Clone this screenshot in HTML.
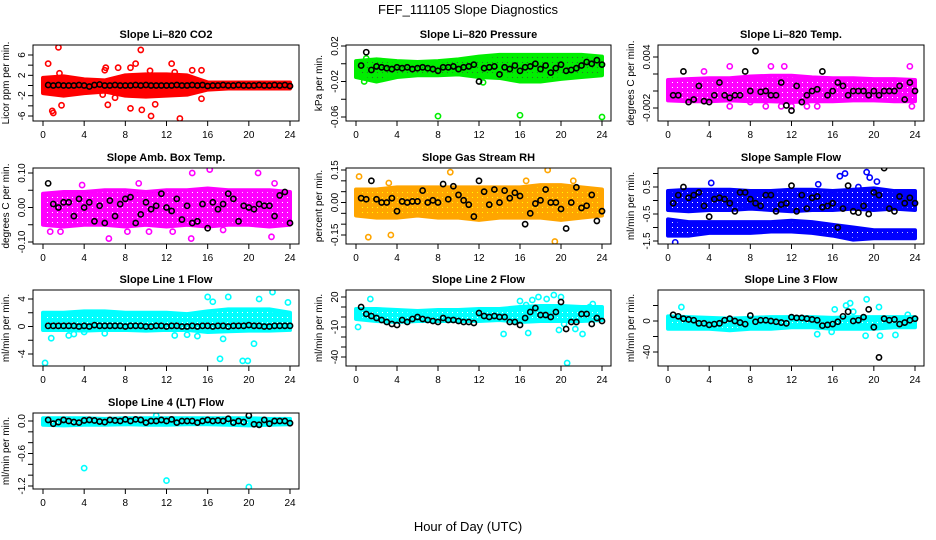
<!DOCTYPE html>
<html><head><meta charset="utf-8"><style>
body{margin:0;background:#fff}
svg{display:block;font-family:"Liberation Sans",sans-serif}
</style></head><body>
<svg id="chart" width="936" height="540" viewBox="0 0 936 540">
<defs id="defs"></defs>
<text x="468" y="14" text-anchor="middle" font-size="13">FEF_111105  Slope Diagnostics</text>
<text x="468" y="531" text-anchor="middle" font-size="13">Hour of Day (UTC)</text>
</svg>
<script>
const xTicks=[0,4,8,12,16,20,24];
const bandHours=[0,2,4,6,8,10,12,14,16,18,20,22,24];
const blackHours=[0.5,1,1.5,2,2.5,3,3.5,4,4.5,5,5.5,6,6.5,7,7.5,8,8.5,9,9.5,10,10.5,11,11.5,12,12.5,13,13.5,14,14.5,15,15.5,16,16.5,17,17.5,18,18.5,19,19.5,20,20.5,21,21.5,22,22.5,23,23.5,24];

const co2Black=[0.1,0,0.1,0,0,0,0.1,0,-0.2,0.1,0.2,0,0,0.1,0,0,0,0.1,0,0.1,0,0,0,0,0,0.1,0,0,0.1,0,0.1,-0.1,0,0,0.1,0,0,0.1,0,0,0,0.1,0,0,0.1,0,0.1,-0.1];
const co2Lo=[-1.5,-2,-1.5,-1.2,-2,-2.2,-2,-1.8,-0.8,-0.6,-0.6,-0.6,-0.6];
const co2Hi=[1.5,1.8,1.2,1,2,2.2,2.2,2,0.6,0.6,0.6,0.6,0.6];
const co2OutX=[0.5,1.5,1.6,1.8,0.9,1,6,6.1,6.3,7.3,8.5,9,9.5,9.6,8.5,10.4,10.5,10.9,12.5,12.8,13.3,14.5,15.4,15.4,7,5.8];
const co2OutY=[4.3,7.5,2.4,-3.9,-5,-5.4,3,3.5,-3.8,3.5,3.5,4.3,7,-4.8,-4.5,2.9,-6,-3.7,4.3,2.6,-6.5,3,-2.6,3,-2.4,-1.8];

const presBlack=[-0.002,0.013,-0.007,-0.003,-0.004,-0.005,-0.006,-0.004,-0.005,-0.004,-0.006,-0.005,-0.004,-0.005,-0.006,-0.008,-0.004,-0.004,-0.003,-0.006,-0.004,-0.003,-0.001,-0.02,-0.005,-0.004,-0.003,-0.012,-0.004,-0.006,-0.002,-0.008,-0.004,-0.003,0,-0.006,-0.002,-0.01,-0.005,-0.001,-0.008,-0.007,-0.005,-0.002,0.002,0,0.004,-0.001];
const presLo=[-0.015,-0.02,-0.015,-0.013,-0.013,-0.012,-0.015,-0.016,-0.02,-0.02,-0.017,-0.015,-0.013];
const presHi=[0.003,0.005,0.003,0.002,0.003,0.005,0.008,0.01,0.01,0.01,0.01,0.01,0.008];
const presOutX=[8,16,24,1,12.4,0.8];
const presOutY=[-0.059,-0.058,-0.06,0.006,-0.021,-0.02];

const tempBlack=[-0.0005,-0.0005,0.0023,-0.0013,-0.001,0.0006,-0.0012,-0.0013,-0.0005,0.001,-0.0005,-0.0008,-0.0005,-0.0005,0.0023,0,0.0047,-0.0001,0,-0.0005,-0.0005,0.001,-0.0017,-0.0023,0.0006,-0.0013,-0.0005,0,0.0002,0.0023,-0.0005,0,0.001,0.0006,-0.0005,0,0,0,-0.0005,0,-0.0005,0,0,0,0.0006,-0.001,0.001,0];
const tempLo=[-0.0011,-0.0012,-0.0012,-0.0011,-0.0012,-0.0012,-0.0013,-0.0012,-0.0012,-0.0011,-0.0011,-0.0012,-0.0012];
const tempHi=[0.0013,0.0014,0.0015,0.0015,0.0017,0.0018,0.0018,0.0016,0.0015,0.0015,0.0014,0.0014,0.0013];
const tempOutX=[6,8,9.5,11,12,13.5,14.5,3.5,23.5,23.7,6,10,11.3];
const tempOutY=[-0.0018,-0.0013,-0.0018,-0.0018,-0.0018,-0.0018,-0.0018,0.0023,0.0029,-0.0018,0.0029,0.0029,0.0029];

const ambBlack=[0.07,0.01,0,0.015,0.015,-0.025,0.025,0,0.015,-0.04,0.005,-0.045,0.02,-0.025,0.01,0.025,0.03,-0.045,-0.02,0.015,-0.005,0.005,0.04,0,-0.01,0.025,-0.035,0.005,-0.045,-0.04,0.01,-0.06,0.015,-0.005,0.01,0.04,0.025,-0.04,0.005,0,-0.005,0.01,0.005,0.005,-0.025,0.035,0.045,-0.045];
const ambLo=[-0.05,-0.055,-0.05,-0.05,-0.055,-0.05,-0.055,-0.05,-0.055,-0.05,-0.05,-0.055,-0.05];
const ambHi=[0.04,0.045,0.045,0.05,0.05,0.045,0.05,0.05,0.055,0.05,0.05,0.05,0.045];
const ambOutX=[0.7,1.7,6.4,9.3,10.3,12.6,14.4,14.5,16.2,17.5,20.9,22.2,22.5,3.8,8.2];
const ambOutY=[-0.07,-0.07,-0.09,0.07,-0.07,-0.07,-0.09,0.1,0.11,-0.065,0.1,-0.085,0.07,0.065,-0.07];

const rhBlack=[0.02,0.015,0.1,0.015,0,0,0.02,-0.04,0.005,0,0.005,0.005,0.055,0,0.01,0,0.085,0.015,0.075,0.035,0.01,-0.01,-0.065,0.1,0.05,-0.01,0.06,0,0.055,0.02,0.045,0.03,-0.1,-0.05,-0.005,0.01,0.06,0,0,-0.03,-0.12,0,0.07,-0.025,-0.015,0.035,-0.085,-0.04];
const rhLo=[-0.06,-0.07,-0.07,-0.06,-0.07,-0.07,-0.08,-0.07,-0.07,-0.07,-0.08,-0.07,-0.06];
const rhHi=[0.06,0.06,0.07,0.07,0.07,0.07,0.07,0.07,0.07,0.08,0.08,0.07,0.06];
const rhOutX=[0.3,1.2,3.4,9.2,18.7,19.4,21.2,16.6,3.2];
const rhOutY=[0.12,-0.16,-0.15,0.14,0.15,-0.18,0.1,0.1,0.09];

const sampBlack=[-0.1,0.2,0.5,0.1,0.2,0.3,-0.2,-0.6,0.05,0.1,0.05,-0.1,-0.4,0.3,0.3,0.05,-0.1,-0.2,0.2,0.2,-0.4,-0.15,-0.1,0.55,-0.4,0.2,-0.3,0.1,0.15,-0.25,-0.2,-0.1,-1.0,-0.3,0.55,-0.4,-0.45,-0.2,-0.5,0.3,0.2,1.2,-0.3,-0.4,0.15,-0.1,0.1,-0.1];
const sampUpLo=[-0.35,-0.4,-0.35,-0.35,-0.3,-0.35,-0.4,-0.35,-0.35,-0.3,-0.35,-0.3,-0.35];
const sampUpHi=[0.35,0.4,0.4,0.4,0.35,0.35,0.4,0.4,0.35,0.4,0.45,0.35,0.35];
const sampDnLo=[-1.3,-1.3,-1.2,-1.2,-1.2,-1.15,-1.15,-1.2,-1.3,-1.45,-1.4,-1.4,-1.4];
const sampDnHi=[-0.7,-0.8,-0.8,-0.8,-0.8,-0.8,-0.75,-0.8,-0.9,-1.0,-1.1,-1.1,-1.1];
const sampOutX=[0.7,4.2,16.7,17.2,19.3,19.6,20.3,14.6,23.4,18.5];
const sampOutY=[-1.55,0.65,0.9,1.0,1.05,0.85,0.7,0.6,-1.2,0.5];

const l1Black=[0.1,0.1,0.1,0.1,0.1,0.1,0,0.1,0,0.2,0.1,0.1,0.1,0.1,0.1,0,0.1,0.1,0.1,0,0,0.1,0.1,0,0.1,0.1,0,0,0.1,0,0.1,0.1,0,0.1,0.1,0,0.1,0.1,0.1,0.2,0.1,0.1,0,0,0.1,0.1,0.1,0.1];
const l1Lo=[-0.5,-0.5,-0.6,-0.5,-0.5,-0.6,-0.5,-0.5,-0.8,-0.7,-0.6,-0.6,-0.5];
const l1Hi=[2,2,2.2,2.2,2,2,2,1.8,2.2,2.5,2.5,2.5,2];
const l1OutX=[0.2,0.8,2.5,3,4,6,16,16.5,17.2,17.5,18,19.4,19.9,20.5,21,22.3,22.5,23.8,14,15,12.8];
const l1OutY=[-5.3,-1.7,-1.3,-1.1,-0.8,-1,4.3,3.6,-4.7,-1.8,4.3,-5,-5,-2.5,4,5,2,3.5,-1.2,-1.4,-1.3];

const l2Black=[10,3,1,-1,-3,-5,-7,-8,-3,-5,-2,0,-2,-3,-4,-5,-1,-3,-3,-4,-5,-5,-6,4,1,0,1,0,0,-5,-5,-8,-1,5,9,2,2,0,5,15,-12,-5,-5,3,3,-7,-1,-4];
const l2Lo=[-2,-4,-5,-4,-4,-4,-4,-3,-5,-4,-4,-4,-3];
const l2Hi=[8,8,7,6,7,7,8,8,10,11,11,10,10];
const l2OutX=[0.2,1.4,14.4,16.8,16,17.2,17.8,18.6,19.3,20,20.3,21.4,22.1,22.8,23.1,16.6,19.8,20.6];
const l2OutY=[-10,18,-17,-16,16,17,20,18,22,20,-7,-12,-17,10,13,12,-13,-46];

const l3Black=[8,6,3,2,1,-3,-3,-5,-4,-3,1,3,0,-2,-4,7,-1,1,1,0,-1,-2,-3,5,4,4,3,2,1,-6,-5,-4,-1,6,12,0,1,5,15,-8,-47,3,1,2,-4,-2,1,3];
const l3Lo=[-10,-10,-10,-12,-10,-10,-8,-8,-10,-10,-10,-8,-8];
const l3Hi=[6,5,4,3,4,5,5,5,4,5,5,5,5];
const l3OutX=[1.3,14.5,15.9,16.2,17.3,17.7,18,19.2,19.3,20.5,20.6,22.1,23.3];
const l3OutY=[18,-17,-14,15,20,23,12,-19,28,18,-19,-18,8];

const l4Black=[0.02,-0.05,-0.02,0.02,0,-0.02,-0.03,0.01,0.02,0.01,-0.01,-0.02,0.02,0.01,0,0.03,0,0.03,0.02,-0.03,0,0,0.02,0,0.03,-0.03,0,0,0,-0.03,0,0.02,0,0.01,0,0.04,-0.03,0,-0.02,0.1,-0.06,-0.07,0.02,-0.05,0,0,0,-0.04];
const l4Lo=[-0.07,-0.08,-0.07,-0.07,-0.06,-0.07,-0.07,-0.06,-0.06,-0.07,-0.08,-0.07,-0.06];
const l4Hi=[0.05,0.05,0.05,0.04,0.05,0.05,0.05,0.05,0.05,0.05,0.05,0.04,0.04];
const l4OutX=[4,12,20,11];
const l4OutY=[-0.87,-1.1,-1.22,0.1];

const NS="http://www.w3.org/2000/svg";
const svg=document.getElementById('chart');
const defs=document.getElementById('defs');
function mk(tag,attrs,parent){const e=document.createElementNS(NS,tag);for(const k in attrs)e.setAttribute(k,attrs[k]);(parent||svg).appendChild(e);return e;}

const cols=[{l:33,r:299},{l:346,r:611},{l:658,r:924}];
const rows=[{t:45,b:121},{t:168,b:244},{t:290,b:366},{t:413,b:489}];

const panels=[
 {name:'co2',title:'Slope Li\u2013820 CO2',ylab:'Licor ppm per min.',c:0,r:0,v0:6,p0:55,v1:-6,p1:116,ticks:[-6,-4,-2,0,2,4,6],labels:['-6','','-2','','2','','6'],col:'#ff0000',dot:'#ff0000',bands:[[co2Lo,co2Hi]],ox:co2OutX,oy:co2OutY,black:co2Black},
 {name:'pressure',title:'Slope Li\u2013820 Pressure',ylab:'kPa per min.',c:1,r:0,v0:0.02,p0:46,v1:-0.06,p1:117,ticks:[-0.06,-0.04,-0.02,0,0.02],labels:['-0.06','','-0.02','','0.02'],col:'#00ee00',dot:'#336633',bands:[[presLo,presHi]],ox:presOutX,oy:presOutY,black:presBlack},
 {name:'temp',title:'Slope Li\u2013820 Temp.',ylab:'degrees C per min.',c:2,r:0,v0:0.004,p0:57,v1:-0.002,p1:108,ticks:[-0.002,0,0.002,0.004],labels:['-0.002','','','0.004'],col:'#ff00ff',dot:'#ffffff',bands:[[tempLo,tempHi]],ox:tempOutX,oy:tempOutY,black:tempBlack},
 {name:'amb-box-temp',title:'Slope Amb. Box Temp.',ylab:'degrees C per min.',c:0,r:1,v0:0.10,p0:173,v1:-0.10,p1:242,ticks:[-0.1,-0.05,0,0.05,0.1],labels:['-0.10','','0.00','','0.10'],col:'#ff00ff',dot:'#ffffff',bands:[[ambLo,ambHi]],ox:ambOutX,oy:ambOutY,black:ambBlack},
 {name:'gas-rh',title:'Slope Gas Stream RH',ylab:'percent per min.',c:1,r:1,v0:0.15,p0:170,v1:-0.15,p1:235,ticks:[-0.15,-0.1,-0.05,0,0.05,0.1,0.15],labels:['-0.15','','','0.00','','','0.15'],col:'#ffa500',dot:'#ffff00',bands:[[rhLo,rhHi]],ox:rhOutX,oy:rhOutY,black:rhBlack},
 {name:'sample-flow',title:'Slope Sample Flow',ylab:'ml/min per min.',c:2,r:1,v0:0.5,p0:187,v1:-0.5,p1:214,ticks:[-1.5,-1,-0.5,0,0.5,1],labels:['-1.5','','-0.5','','0.5',''],col:'#0000ff',dot:'#ffffff',bands:[[sampUpLo,sampUpHi],[sampDnLo,sampDnHi]],ox:sampOutX,oy:sampOutY,black:sampBlack},
 {name:'line1-flow',title:'Slope Line 1 Flow',ylab:'ml/min per min.',c:0,r:2,v0:4,p0:299,v1:-4,p1:354,ticks:[-4,-2,0,2,4],labels:['-4','','0','','4'],col:'#00ffff',dot:'#ffffff',bands:[[l1Lo,l1Hi]],ox:l1OutX,oy:l1OutY,black:l1Black},
 {name:'line2-flow',title:'Slope Line 2 Flow',ylab:'ml/min per min.',c:1,r:2,v0:20,p0:297,v1:-40,p1:357,ticks:[-40,-30,-20,-10,0,10,20],labels:['-40','','','-10','','','20'],col:'#00ffff',dot:'#ffffff',bands:[[l2Lo,l2Hi]],ox:l2OutX,oy:l2OutY,black:l2Black},
 {name:'line3-flow',title:'Slope Line 3 Flow',ylab:'ml/min per min.',c:2,r:2,v0:0,p0:321,v1:-40,p1:352,ticks:[-40,-20,0,20],labels:['-40','','0',''],col:'#00ffff',dot:'#ffffff',bands:[[l3Lo,l3Hi]],ox:l3OutX,oy:l3OutY,black:l3Black},
 {name:'line4-flow',title:'Slope Line 4 (LT) Flow',ylab:'ml/min per min.',c:0,r:3,v0:0,p0:421,v1:-1.2,p1:486,ticks:[-1.2,-1,-0.8,-0.6,-0.4,-0.2,0],labels:['-1.2','','','-0.6','','','0.0'],col:'#00ffff',dot:'#ffffff',bands:[[l4Lo,l4Hi]],ox:l4OutX,oy:l4OutY,black:l4Black}
];

panels.forEach(p=>{
 const C=cols[p.c],R=rows[p.r];
 const x0=C.l+10,x1=C.r-9;
 const X=h=>x0+(x1-x0)*h/24;
 const Y=v=>p.p0+(v-p.v0)*(p.p1-p.p0)/(p.v1-p.v0);
 const pid='pat-'+p.name;
 const pat=mk('pattern',{id:pid,width:5,height:5,patternUnits:'userSpaceOnUse'},defs);
 mk('rect',{x:0,y:0,width:5,height:5,fill:p.col},pat);
 mk('rect',{x:2,y:2,width:1,height:1,fill:p.dot},pat);
 const g=mk('g',{});
 
 
 const cid='clip-'+p.name;
 const cp=mk('clipPath',{id:cid},g);
 mk('rect',{x:C.l,y:R.t,width:C.r-C.l,height:R.b-R.t},cp);
 const t=mk('text',{x:(C.l+C.r)/2,y:R.t-7,'text-anchor':'middle','font-size':11,'font-weight':'bold'},g);
 t.textContent=p.title;
 
 
 const yl=mk('text',{x:0,y:0,'text-anchor':'middle','font-size':10,transform:`translate(${C.l-24},${(R.t+R.b)/2}) rotate(-90)`},g);
 yl.textContent=p.ylab;
 
 
 const pg=mk('g',{'clip-path':`url(#${cid})`},g);
 p.bands.forEach(b=>{
  const lo=b[0],hi=b[1];
  let pts=bandHours.map((h,i)=>X(h)+','+Y(hi[i]));
  pts=pts.concat(bandHours.slice().reverse().map((h,i)=>X(h)+','+Y(lo[lo.length-1-i])));
  const poly=mk('polygon',{points:pts.join(' '),fill:`url(#${pid})`,stroke:p.col,'stroke-width':4,'stroke-linejoin':'round'},pg);
  
  
 });
 p.ox.forEach((h,i)=>{
  const c=mk('circle',{cx:X(h),cy:Y(p.oy[i]),r:2.6,fill:'none',stroke:p.col,'stroke-width':1.6},pg);
  
  
 });
 blackHours.forEach((h,i)=>{
  const c=mk('circle',{cx:X(h),cy:Y(p.black[i]),r:2.6,fill:'none',stroke:'#000','stroke-width':1.6},pg);
  
  
 });
 const box=mk('rect',{x:C.l,y:R.t,width:C.r-C.l,height:R.b-R.t,fill:'none',stroke:'#000','stroke-width':1},g);
 
 
 const ax=mk('g',{},g);
 
 
 mk('line',{x1:X(0),x2:X(24),y1:R.b,y2:R.b,stroke:'#000'},ax);
 xTicks.forEach(v=>{
  mk('line',{x1:X(v),x2:X(v),y1:R.b,y2:R.b+5,stroke:'#000'},ax);
  const tl=mk('text',{x:X(v),y:R.b+17,'text-anchor':'middle','font-size':10},ax);
  tl.textContent=v;
 });
 const ay=mk('g',{},g);
 
 
 p.ticks.forEach((v,i)=>{
  const y=Y(v);
  mk('line',{x1:C.l-5,x2:C.l,y1:y,y2:y,stroke:'#000'},ay);
  if(p.labels[i]){
   const tl=mk('text',{x:0,y:0,'text-anchor':'middle','font-size':10,transform:`translate(${C.l-8},${y}) rotate(-90)`},ay);
   tl.textContent=p.labels[i];
  }
 });
});
</script>
</body></html>
